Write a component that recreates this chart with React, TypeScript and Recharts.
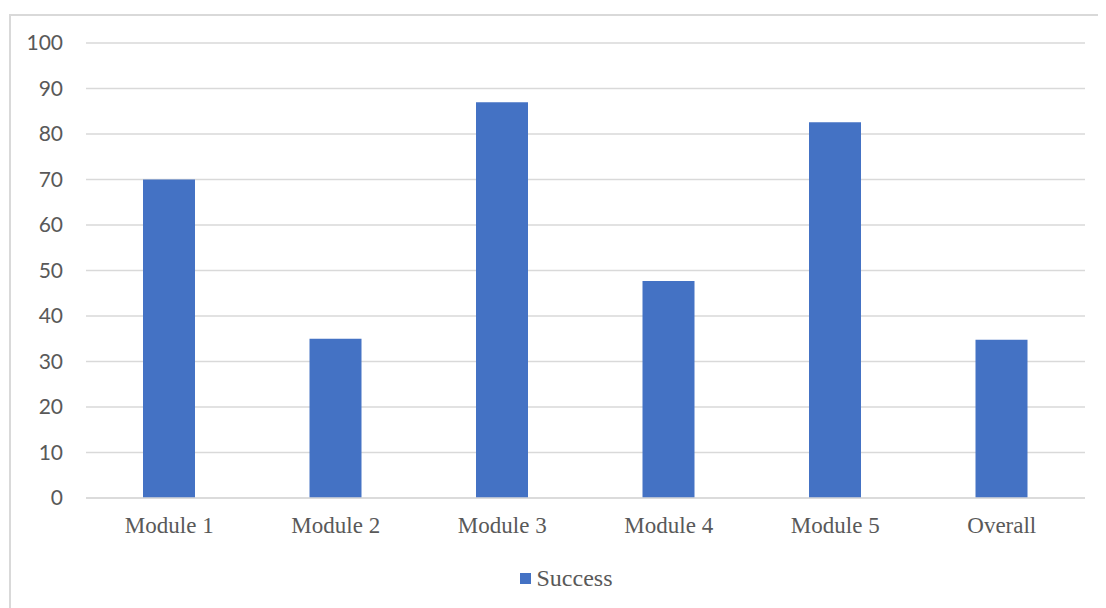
import { BarChart, Bar, XAxis, YAxis, CartesianGrid, Legend } from 'recharts';

const modules = ['Module 1', 'Module 2', 'Module 3', 'Module 4', 'Module 5', 'Overall'];
const success = [70, 35, 87, 47.7, 82.6, 34.8];
const yTicks = [0, 10, 20, 30, 40, 50, 60, 70, 80, 90, 100];

const data = modules.map((name, i) => ({ name, success: success[i] }));

const BLUE = '#4472C4';
const GRID = '#d9d9d9';

// Excel-style legend: small square swatch + serif label, nudged right of centre
function SuccessLegend() {
  return (
    <div style={{ display: 'flex', justifyContent: 'center', alignItems: 'center', height: 40, paddingLeft: 36 }}>
      <span style={{ width: 11, height: 11, background: BLUE, marginRight: 6, display: 'inline-block' }} />
      <span style={{ fontFamily: '"Liberation Serif", serif', fontSize: 24, color: '#595959' }}>Success</span>
    </div>
  );
}

export default function App() {
  return (
    <div style={{ position: 'relative', width: 1098, height: 600 }}>
      <div
        style={{
          position: 'absolute',
          left: 1,
          top: 6,
          width: 1094,
          height: 600,
          border: `2px solid ${GRID}`,
          background: '#fff',
        }}
      >
        <BarChart width={1094} height={600} data={data} margin={{ top: 27, right: 20, bottom: 18, left: 0 }}>
          <CartesianGrid vertical={false} stroke={GRID} strokeWidth={1.5} />
          <XAxis
            dataKey="name"
            height={60}
            tickLine={false}
            tickSize={0}
            tickMargin={19}
            axisLine={{ stroke: GRID, strokeWidth: 1.5 }}
            tick={{ fill: '#595959', fontSize: 23, fontFamily: '"Liberation Serif", serif' }}
          />
          <YAxis
            width={75}
            domain={[0, 100]}
            ticks={yTicks}
            axisLine={false}
            tickLine={false}
            tickSize={0}
            tickMargin={23}
            tick={{ fill: '#595959', fontSize: 21, fontFamily: 'Lato, sans-serif' }}
          />
          <Legend verticalAlign="bottom" height={40} content={() => <SuccessLegend />} />
          <Bar dataKey="success" fill={BLUE} barSize={52} isAnimationActive={false} />
        </BarChart>
      </div>
    </div>
  );
}
